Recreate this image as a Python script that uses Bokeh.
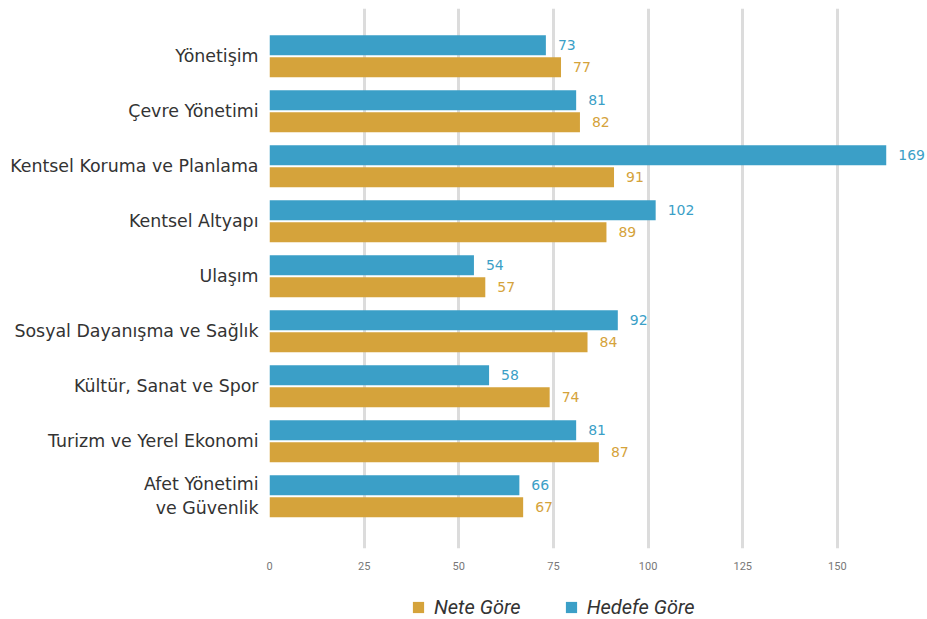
import numpy as np
from bokeh.plotting import figure
from bokeh.layouts import column
from bokeh.models import ColumnDataSource, Range1d, FixedTicker, Legend, LegendItem
from bokeh.core.properties import value
from bokeh.embed import file_html
from bokeh.resources import INLINE

categories = ["Yönetişim", "Çevre Yönetimi", "Kentsel Koruma ve Planlama", "Kentsel Altyapı",
              "Ulaşım", "Sosyal Dayanışma ve Sağlık", "Kültür, Sanat ve Spor",
              "Turizm ve Yerel Ekonomi", "Afet Yönetimi\nve Güvenlik"]
hedefe = [73, 81, 169, 102, 54, 92, 58, 81, 66]
nete = [77, 82, 91, 89, 57, 84, 74, 87, 67]
x_ticks = [0, 25, 50, 75, 100, 125, 150]
series_names = ["Nete Göre", "Hedefe Göre"]

BLUE = "#3b9fc7"
ORANGE = "#d5a33b"
CAP = 162.9  # axis maximum at which long bars are cut
FONT = "DejaVu Sans"

idx = np.arange(len(categories))
src_h = ColumnDataSource(dict(y=idx - 0.2, v=hedefe, r=np.minimum(hedefe, CAP),
                              t=[str(v) for v in hedefe]))
src_n = ColumnDataSource(dict(y=idx + 0.2, v=nete, r=np.minimum(nete, CAP),
                              t=[str(v) for v in nete]))

p = figure(width=927, height=580, output_backend="svg", toolbar_location=None,
           x_range=Range1d(0, 173.8), y_range=Range1d(8.95, -0.87),
           min_border_left=269, min_border_right=0, min_border_top=8, min_border_bottom=32)
p.outline_line_color = None
p.background_fill_color = "white"
p.border_fill_color = "white"

p.xgrid.ticker = FixedTicker(ticks=x_ticks)
p.xgrid.grid_line_color = "#dcdcdc"
p.xgrid.grid_line_width = 3
p.ygrid.grid_line_color = None

p.hbar(y="y", left=0, right="r", height=0.364, source=src_n, color=ORANGE, line_color=None)
p.hbar(y="y", left=0, right="r", height=0.364, source=src_h, color=BLUE, line_color=None)

for src, col in ((src_h, BLUE), (src_n, ORANGE)):
    p.text(x="r", y="y", text="t", source=src, x_offset=12, text_align="left",
           text_baseline="middle", text_color=col, text_font_size="14px",
           text_font=value(FONT))

p.xaxis.ticker = FixedTicker(ticks=x_ticks)
p.xaxis.axis_line_color = None
p.xaxis.major_tick_line_color = None
p.xaxis.minor_tick_line_color = None
p.xaxis.major_tick_out = 0
p.xaxis.minor_tick_out = 0
p.xaxis.major_label_text_font = "Roboto"
p.xaxis.major_label_text_font_size = "11px"
p.xaxis.major_label_text_color = "#777777"
p.xaxis.major_label_standoff = 13

p.yaxis.ticker = FixedTicker(ticks=list(idx))
p.yaxis.major_label_overrides = {int(i): c for i, c in zip(idx, categories)}
p.yaxis.axis_line_color = None
p.yaxis.major_tick_line_color = None
p.yaxis.minor_tick_line_color = None
p.yaxis.major_tick_out = 0
p.yaxis.minor_tick_out = 0
p.yaxis.major_label_text_font = FONT
p.yaxis.major_label_text_font_size = "17.4px"
p.yaxis.major_label_text_color = "#333333"
p.yaxis.major_label_standoff = 11

# legend strip below the chart (its frame is aligned with the chart's frame)
lg = figure(width=927, height=39, output_backend="svg", toolbar_location=None,
            x_range=Range1d(0, 1), y_range=Range1d(0, 1),
            min_border_left=269, min_border_right=0, min_border_top=0, min_border_bottom=0)
lg.axis.visible = False
lg.grid.visible = False
lg.outline_line_color = None
swatch = dict(y=[0], r=[0])  # zero-width swatch bars, only used for legend glyphs
ln = lg.hbar(y="y", left=0, right="r", height=0.0, source=ColumnDataSource(swatch),
             color=ORANGE, line_color=None)
lh = lg.hbar(y="y", left=0, right="r", height=0.0, source=ColumnDataSource(swatch),
             color=BLUE, line_color=None)
legend = Legend(items=[LegendItem(label=series_names[0], renderers=[ln]),
                       LegendItem(label=series_names[1], renderers=[lh])],
                orientation="horizontal", location=(142, 0),
                label_text_font="Roboto", label_text_font_style="italic",
                label_text_font_size="20px", label_text_color="#333333",
                glyph_width=14, glyph_height=14, label_standoff=9, spacing=43,
                border_line_color=None, background_fill_alpha=0, padding=4, margin=0)
lg.add_layout(legend, "center")

layout = column(p, lg, spacing=0)
open("out.html", "w").write(file_html(layout, INLINE))
